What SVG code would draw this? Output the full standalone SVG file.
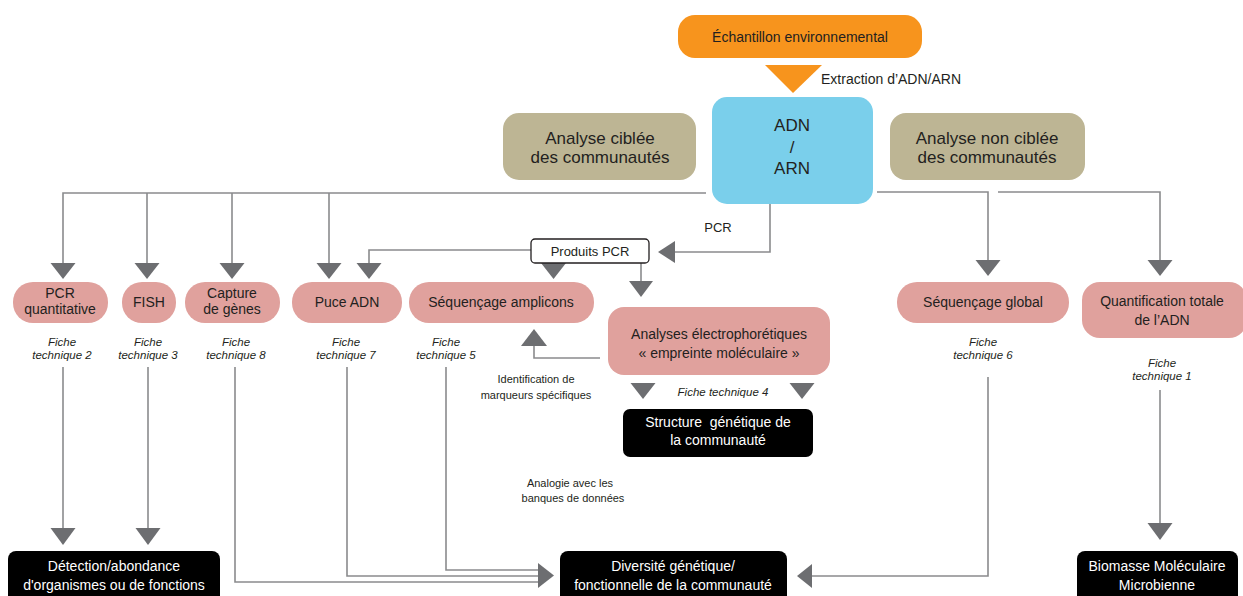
<svg xmlns="http://www.w3.org/2000/svg" width="1243" height="596" viewBox="0 0 1243 596">
<style>
text{font-family:"Liberation Sans",Arial,sans-serif;fill:#231f20;text-anchor:middle}
.t14{font-size:14px}
.t17{font-size:17px}
.t13{font-size:13px}
.sm{font-size:11px}
.fi{font-size:11.5px;font-style:italic}
.w{fill:#ffffff}
.pill{fill:#e0a19d}
.khaki{fill:#bdb594}
.blk{fill:#000000}
.ln{fill:none;stroke:#8a8b8d;stroke-width:1.6}
.ah{fill:#6d6e71}
.oah{fill:#f7941d}
</style>
<rect width="1243" height="596" fill="#ffffff"/>

<g id="connectors">
<path class="ln" d="M706,193 H63 V264"/>
<path class="ln" d="M147,193 V264"/>
<path class="ln" d="M232,193 V264"/>
<path class="ln" d="M329,193 V264"/>
<path class="ln" d="M877,192 H988 V261"/>
<path class="ln" d="M998,192 H1160 V261"/>
<path class="ln" d="M770,204 V252 H675"/>
<path class="ln" d="M531,250 H369 V264"/>
<path class="ln" d="M641,263 V282"/>
<path class="ln" d="M600,358 H534 V346"/>
<path class="ln" d="M63,367 V529"/>
<path class="ln" d="M148,367 V529"/>
<path class="ln" d="M235,367 V582 H539"/>
<path class="ln" d="M347,367 V576 H539"/>
<path class="ln" d="M446,367 V570 H539"/>
<path class="ln" d="M988,377 V576 H811"/>
<path class="ln" d="M1160,390 V524"/>
<polygon class="oah" points="765,65 822,65 793,93"/>
<polygon class="ah" points="50.5,263 75.5,263 63,279"/>
<polygon class="ah" points="134.5,263 159.5,263 147,279"/>
<polygon class="ah" points="219.5,263 244.5,263 232,279"/>
<polygon class="ah" points="316.5,263 341.5,263 329,279"/>
<polygon class="ah" points="356.5,263 381.5,263 369,279"/>
<polygon class="ah" points="541,263 566,263 553.5,279"/>
<polygon class="ah" points="629,281 653,281 641,297"/>
<polygon class="ah" points="975.5,260 1000.5,260 988,276"/>
<polygon class="ah" points="1147.5,260 1172.5,260 1160,276"/>
<polygon class="ah" points="675,241 675,263 658,252"/>
<polygon class="ah" points="521,346 547,346 534,329"/>
<polygon class="ah" points="630.5,383 655.5,383 643,399"/>
<polygon class="ah" points="789.5,383 814.5,383 802,399"/>
<polygon class="ah" points="50.5,528 75.5,528 63,545"/>
<polygon class="ah" points="135.5,528 160.5,528 148,545"/>
<polygon class="ah" points="1147.5,523 1172.5,523 1160,540"/>
<polygon class="ah" points="538,563 538,588 554,575.5"/>
<polygon class="ah" points="812,564 812,588 797,576"/>
</g>

<g id="labels">
<text class="t14" x="821" y="84" style="text-anchor:start">Extraction d’ADN/ARN</text>
<text class="t13" x="718" y="232">PCR</text>
<text class="fi" x="62" y="346">Fiche</text><text class="fi" x="62" y="359">technique 2</text>
<text class="fi" x="148" y="346">Fiche</text><text class="fi" x="148" y="359">technique 3</text>
<text class="fi" x="236" y="346">Fiche</text><text class="fi" x="236" y="359">technique 8</text>
<text class="fi" x="346" y="346">Fiche</text><text class="fi" x="346" y="359">technique 7</text>
<text class="fi" x="446" y="346">Fiche</text><text class="fi" x="446" y="359">technique 5</text>
<text class="fi" x="983" y="346">Fiche</text><text class="fi" x="983" y="359">technique 6</text>
<text class="fi" x="1162" y="367">Fiche</text><text class="fi" x="1162" y="380">technique 1</text>
<text class="fi" x="723" y="396">Fiche technique 4</text>
<text class="sm" x="536" y="383">Identification de</text>
<text class="sm" x="536" y="399">marqueurs spécifiques</text>
<text class="sm" x="570" y="487">Analogie avec les</text>
<text class="sm" x="573" y="502">banques de données</text>
</g>

<g id="echantillon">
<rect x="678" y="15" width="244" height="43" rx="17" fill="#f7941d"/>
<text class="t14" x="800" y="42">Échantillon environnemental</text>
</g>
<g id="adn-arn">
<rect x="712" y="97" width="161" height="107" rx="15" fill="#7acfeb"/>
<text class="t17" x="792" y="131">ADN</text>
<text class="t17" x="792" y="153">/</text>
<text class="t17" x="792" y="174">ARN</text>
</g>
<g id="analyse-ciblee">
<rect class="khaki" x="503" y="113" width="193" height="67" rx="16"/>
<text class="t17" x="600" y="144">Analyse ciblée</text>
<text class="t17" x="600" y="163">des communautés</text>
</g>
<g id="analyse-non-ciblee">
<rect class="khaki" x="890" y="113" width="195" height="67" rx="16"/>
<text class="t17" x="987" y="144">Analyse non ciblée</text>
<text class="t17" x="987" y="163">des communautés</text>
</g>
<g id="produits-pcr">
<rect x="531" y="239" width="118" height="24" rx="4" fill="#ffffff" stroke="#231f20" stroke-width="1.3"/>
<text class="t13" x="590" y="256">Produits PCR</text>
</g>
<g id="pcr-quantitative">
<rect class="pill" x="13" y="282" width="95" height="41" rx="20"/>
<text class="t14" x="60" y="298">PCR</text>
<text class="t14" x="60" y="314">quantitative</text>
</g>
<g id="fish">
<rect class="pill" x="122" y="282" width="54" height="41" rx="20"/>
<text class="t14" x="149" y="307">FISH</text>
</g>
<g id="capture-genes">
<rect class="pill" x="185" y="282" width="95" height="41" rx="20"/>
<text class="t14" x="232" y="298">Capture</text>
<text class="t14" x="232" y="314">de gènes</text>
</g>
<g id="puce-adn">
<rect class="pill" x="292" y="282" width="110" height="41" rx="20"/>
<text class="t14" x="347" y="307">Puce ADN</text>
</g>
<g id="sequencage-amplicons">
<rect class="pill" x="409" y="282" width="185" height="41" rx="20"/>
<text class="t14" x="501" y="307">Séquençage amplicons</text>
</g>
<g id="analyses-electrophoretiques">
<rect class="pill" x="608" y="307" width="222" height="68" rx="16"/>
<text class="t14" x="719" y="339">Analyses électrophorétiques</text>
<text class="t14" x="719" y="358">« empreinte moléculaire »</text>
</g>
<g id="sequencage-global">
<rect class="pill" x="897" y="282" width="172" height="41" rx="20"/>
<text class="t14" x="983" y="307">Séquençage global</text>
</g>
<g id="quantification-totale">
<rect class="pill" x="1082" y="282" width="165" height="56" rx="18"/>
<text class="t14" x="1162" y="306">Quantification totale</text>
<text class="t14" x="1162" y="325">de l’ADN</text>
</g>
<g id="structure-genetique">
<rect class="blk" x="623" y="409" width="190" height="48" rx="7"/>
<text class="t14 w" x="718" y="427" xml:space="preserve">Structure  génétique de</text>
<text class="t14 w" x="718" y="445">la communauté</text>
</g>
<g id="detection-abondance">
<rect class="blk" x="8" y="551" width="212" height="55" rx="8"/>
<text class="t14 w" x="114" y="571">Détection/abondance</text>
<text class="t14 w" x="114" y="590">d'organismes ou de fonctions</text>
</g>
<g id="diversite-genetique">
<rect class="blk" x="560" y="551" width="227" height="55" rx="8"/>
<text class="t14 w" x="673" y="571">Diversité génétique/</text>
<text class="t14 w" x="673" y="590">fonctionnelle de la communauté</text>
</g>
<g id="biomasse">
<rect class="blk" x="1077" y="551" width="161" height="55" rx="8"/>
<text class="t14 w" x="1157" y="571">Biomasse Moléculaire</text>
<text class="t14 w" x="1157" y="590">Microbienne</text>
</g>
</svg>
